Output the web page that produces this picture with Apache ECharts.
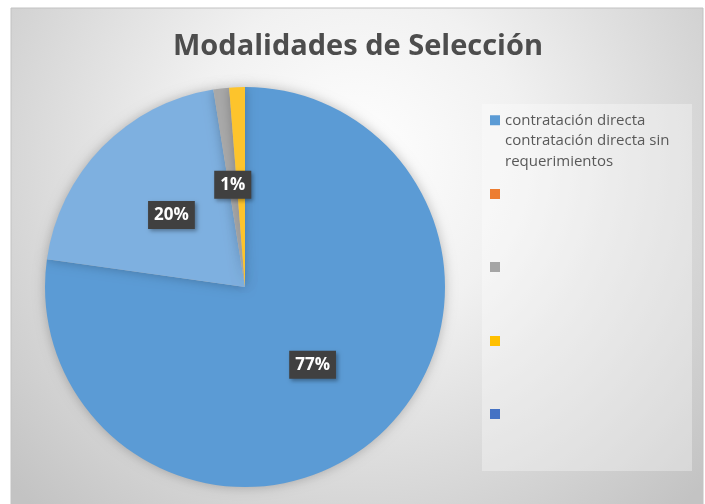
<!DOCTYPE html>
<html lang="es">
<head>
    <meta charset="UTF-8">
    <title>Modalidades de Selección</title>
    <script src="https://cdn.jsdelivr.net/npm/echarts@6/dist/echarts.min.js"></script>
    <style>
        html, body { margin: 0; padding: 0; background: #fff; }
    </style>
</head>
<body>
<div id="main" style="width: 705px;height:504px;"></div>
<script>
    // datos del grafico
    const categories = [
        'contratación directa\ncontratación directa sin\nrequerimientos',
        'cat2', 'cat3', 'cat4', 'cat5'
    ];
    // two blank lines first so the icon lines up with the first text line
    const legendLabels = [
        '\n\ncontratación directa\ncontratación directa sin\nrequerimientos',
        '', '', '', ''
    ];
    const values = [61, 16, 1, 1, 0];
    const sliceColors = ['#5b9bd5', '#7eb0e0', '#a9a9a9', '#fdc42c', '#4472c4'];
    const legendColors = ['#5b9bd5', '#ed7d31', '#a5a5a5', '#ffc000', '#4472c4'];

    let chartDom = document.getElementById('main');
    let myChart = echarts.init(chartDom);
    let option;

    const legendTops = [69, 189, 262, 336, 409];
    let legends = categories.map(function (name, i) {
        return {
            data: [{name: name, itemStyle: {color: legendColors[i]}}],
            left: 490,
            top: legendTops[i],
            padding: 0,
            orient: 'vertical',
            icon: 'rect',
            itemWidth: 10,
            itemHeight: 10,
            selectedMode: false,
            formatter: function () { return legendLabels[i]; },
            textStyle: {
                color: '#595959',
                fontSize: 15,
                fontFamily: 'Open Sans',
                lineHeight: 20.5
            }
        };
    });

    option = {
        title: {
            text: 'Modalidades de Selección',
            left: 353,
            top: 27,
            textAlign: 'center',
            textStyle: {
                color: '#4d4d4d',
                fontSize: 29,
                fontWeight: 'bold',
                fontFamily: 'Open Sans'
            }
        },
        graphic: [
            {
                type: 'rect',
                z: -10,
                shape: {x: 11, y: 8, width: 692, height: 500},
                style: {
                    stroke: '#c2c2c2',
                    lineWidth: 1,
                    fill: {
                        type: 'radial', x: 0.5, y: 0.3, r: 0.95,
                        colorStops: [
                            {offset: 0, color: '#ffffff'},
                            {offset: 0.35, color: '#f1f1f1'},
                            {offset: 1, color: '#c3c3c3'}
                        ]
                    }
                }
            },
            {
                type: 'rect',
                z: -5,
                shape: {x: 482, y: 104, width: 210, height: 367},
                style: {fill: 'rgba(255,255,255,0.32)'}
            }
        ],
        legend: legends,
        series: [
            {
                name: 'Modalidades de Selección',
                type: 'pie',
                center: [245, 287],
                radius: 200,
                startAngle: 90,
                clockwise: true,
                percentPrecision: 2,
                silent: true,
                itemStyle: {
                    borderWidth: 0,
                    shadowBlur: 12,
                    shadowColor: 'rgba(0,0,0,0.25)'
                },
                label: {
                    show: true,
                    position: 'inside',
                    formatter: function (p) { return Math.round(p.percent) + '%'; },
                    color: '#ffffff',
                    fontSize: 17,
                    fontWeight: 'bold',
                    fontFamily: 'Open Sans',
                    backgroundColor: '#404040',
                    padding: [6, 6, 5, 6],
                    shadowBlur: 4,
                    shadowOffsetX: 2,
                    shadowOffsetY: 2,
                    shadowColor: 'rgba(0,0,0,0.35)'
                },
                labelLine: {show: false},
                data: categories.map(function (name, i) {
                    return {
                        name: name,
                        value: values[i],
                        itemStyle: {color: sliceColors[i]},
                        label: {show: values[i] > 0}
                    };
                })
            }
        ]
    };

    option && myChart.setOption(option);
</script>
</body>
</html>
